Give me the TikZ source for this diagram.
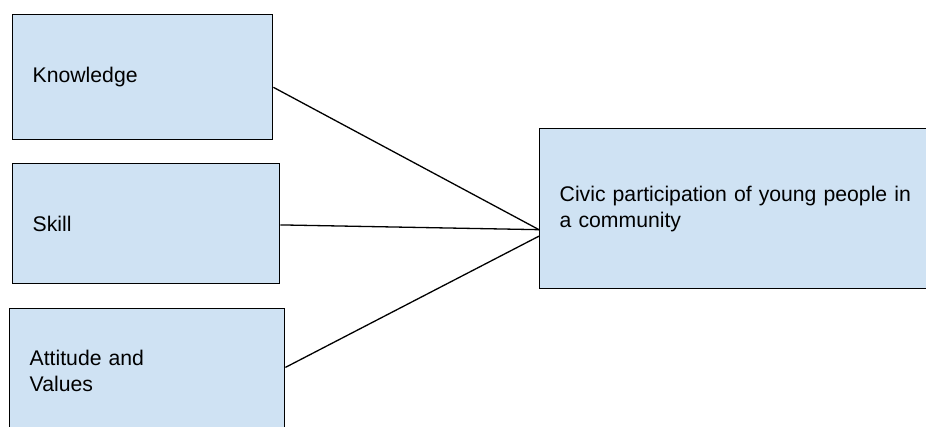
\documentclass[tikz,border=0pt]{standalone}
\usepackage{fontspec}
\setmainfont{Liberation Sans}
\usepackage{xcolor}
\usetikzlibrary{calc}

\definecolor{boxblue}{RGB}{207,226,243}

\tikzset{
    factor/.style={draw=black, line width=1.4pt, fill=boxblue, anchor=north west,
        inner xsep=20pt, inner ysep=0pt, align=left,
        font=\fontsize{21.2}{25.8}\selectfont},
    link/.style={line width=1.3pt, black}
}

\begin{document}
\begin{tikzpicture}[x=1pt, y=-1pt]

    % page frame, boxes run past it on the right and at the bottom
    \useasboundingbox (0, 0) rectangle (926, 427);
    \clip (0, 0) rectangle (926, 427);

    \node[factor, minimum width=260pt, minimum height=125pt, text width=220pt] (know) at (12, 14) {Knowledge};

    \node[factor, minimum width=267pt, minimum height=120pt, text width=227pt] (skill) at (12, 163) {Skill};

    \node[factor, minimum width=275pt, minimum height=125pt, text width=235pt] (att) at (9, 308) {Attitude and\\Values};

    \node[factor, minimum width=420pt, minimum height=160pt, text width=380pt] (civic) at (539, 128) {Civic participation of young people in\\a community};



    \coordinate (knowOut) at ($(know.north east)!0.58!(know.south east)$);

    \coordinate (skillOut) at ($(skill.north east)!0.51!(skill.south east)$);

    \coordinate (attOut) at ($(att.north east)!0.47!(att.south east)$);

    \coordinate (civicInA) at ($(civic.north west)!0.63!(civic.south west)$);

    \coordinate (civicInB) at ($(civic.north west)!0.67!(civic.south west)$);


    \draw [link](knowOut) -- (civicInA);
    \draw [link](skillOut) -- (civicInA);
    \draw [link](attOut) -- (civicInB);

\end{tikzpicture}
\end{document}
